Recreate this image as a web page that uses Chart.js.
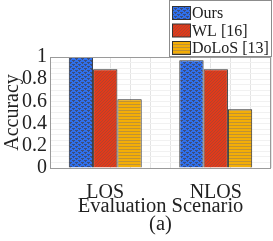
<!DOCTYPE html>
<html>
<head>
<meta charset="utf-8">
<script src="https://cdn.jsdelivr.net/npm/chart.js@4/dist/chart.umd.min.js"></script>
<style>
  html, body { margin: 0; padding: 0; background: #fff; }
  #wrap { width: 273px; height: 241px; }
</style>
</head>
<body>
<div id="wrap"><canvas id="chart" width="273" height="241"></canvas></div>
<script>
const scenarios = ["LOS", "NLOS"];
const methodNames = ["Ours", "WL [16]", "DoLoS [13]"];
const oursAcc = [1.0, 0.97];
const wlAcc = [0.89, 0.89];
const dolosAcc = [0.62, 0.53];
const yTicks = [0, 0.2, 0.4, 0.6, 0.8, 1];

const SERIF = "'Liberation Serif', 'DejaVu Serif', serif";

// small textures like the matlab hatch fills
function makePattern(kind) {
    const c = document.createElement("canvas");
    const g = c.getContext("2d");
    if (kind === "ours") {
        c.width = 6; c.height = 4;
        g.fillStyle = "#2f70ee";
        g.fillRect(0, 0, 6, 4);
        g.fillStyle = "#3b4d7c";
        g.fillRect(0, 0, 3, 1);
        g.fillRect(1, 1, 1, 1);
        g.fillRect(3, 2, 3, 1);
        g.fillRect(4, 3, 1, 1);
    } else if (kind === "wl") {
        c.width = 3; c.height = 3;
        g.fillStyle = "#e2391a";
        g.fillRect(0, 0, 3, 3);
        g.fillStyle = "#b3442c";
        for (let y = 0; y < 3; y++) g.fillRect((3 - y) % 3, y, 1, 1);
    } else {
        c.width = 4; c.height = 3;
        g.fillStyle = "#f4ae06";
        g.fillRect(0, 0, 4, 3);
        g.fillStyle = "#bf9235";
        g.fillRect(0, 2, 4, 1);
    }
    return g.createPattern(c, "repeat");
}

const fills = [makePattern("ours"), makePattern("wl"), makePattern("dolos")];

const legendBox = {
    id: "legendBox",
    afterDraw(chart) {
        const ctx = chart.ctx;
        const x0 = 169.5, y0 = 0.5, w = 102, h = 56;
        ctx.save();
        ctx.fillStyle = "#fff";
        ctx.fillRect(x0, y0, w, h);
        ctx.strokeStyle = "#8c8c8c";
        ctx.lineWidth = 1;
        ctx.strokeRect(x0, y0, w, h);
        ctx.font = "16px " + SERIF;
        ctx.textBaseline = "middle";
        chart.data.datasets.forEach((ds, i) => {
            const cy = 13 + i * 17.5;
            ctx.fillStyle = ds.backgroundColor;
            ctx.fillRect(172.5, cy - 6.5, 18, 13);
            ctx.strokeStyle = "#333";
            ctx.strokeRect(172.5, cy - 6.5, 18, 13);
            ctx.fillStyle = "#222";
            ctx.fillText(ds.label, 192, cy + 1);
        });
        ctx.restore();
    }
};

const frame = {
    id: "frame",
    afterDatasetsDraw(chart) {
        const a = chart.chartArea;
        const ctx = chart.ctx;
        ctx.save();
        ctx.strokeStyle = "#9a9a9a";
        ctx.lineWidth = 1;
        ctx.strokeRect(Math.round(a.left) + 0.5, Math.round(a.top) + 0.5,
            Math.round(a.right - a.left) - 1, Math.round(a.bottom - a.top));
        ctx.restore();
    }
};

new Chart(document.getElementById("chart"), {
    type: "bar",
    data: {
        labels: scenarios,
        datasets: [
            { label: methodNames[0], data: oursAcc, backgroundColor: fills[0] },
            { label: methodNames[1], data: wlAcc, backgroundColor: fills[1] },
            { label: methodNames[2], data: dolosAcc, backgroundColor: fills[2] },
        ].map(d => Object.assign(d, { borderColor: "#2a2a2a", borderWidth: 1, xAxisID: "x" })),
    },
    options: {
        responsive: false,
        animation: false,
        layout: { padding: { top: 57, right: 2, left: 0, bottom: 0 } },
        categoryPercentage: 0.66,
        barPercentage: 1.0,
        plugins: { legend: { display: false }, tooltip: { enabled: false } },
        scales: {
            x: {
                type: "category",
                position: "bottom",
                grid: { display: false },
                border: { display: false },
                ticks: { color: "#222", font: { family: SERIF, size: 20 }, padding: 5 },
                title: {
                    display: true,
                    text: ["Evaluation Scenario", "(a)"],
                    color: "#222",
                    font: { family: SERIF, size: 20.5, lineHeight: 0.9 },
                    padding: { top: 0, bottom: 7 },
                },
                afterFit(s) { s.height = 73; },
            },
            xg: {
                type: "linear",
                position: "bottom",
                min: 0.5,
                max: 2.5,
                ticks: { display: false, stepSize: 0.2 },
                grid: { color: "#e4e4e4", drawTicks: false },
                border: { display: false },
                afterFit(s) { s.height = 0; },
            },
            y: {
                min: 0,
                max: 1,
                grid: { color: "#f1f1f1", drawTicks: false },
                border: { display: false },
                afterBuildTicks(s) {
                    const t = [];
                    for (let i = 0; i <= 20; i++) t.push({ value: i / 20 });
                    s.ticks = t;
                },
                ticks: {
                    color: "#222",
                    font: { family: SERIF, size: 20 },
                    padding: 3,
                    autoSkip: false,
                    callback: v => {
                        const hit = yTicks.find(t => Math.abs(t - v) < 1e-6);
                        return hit === undefined ? "" : String(hit);
                    },
                },
                title: {
                    display: true,
                    text: "Accuracy",
                    color: "#222",
                    font: { family: SERIF, size: 20 },
                    padding: { top: 1, bottom: 0 },
                },
                afterFit(s) { s.width = 50; },
            },
        },
    },
    plugins: [frame, legendBox],
});
</script>
</body>
</html>
